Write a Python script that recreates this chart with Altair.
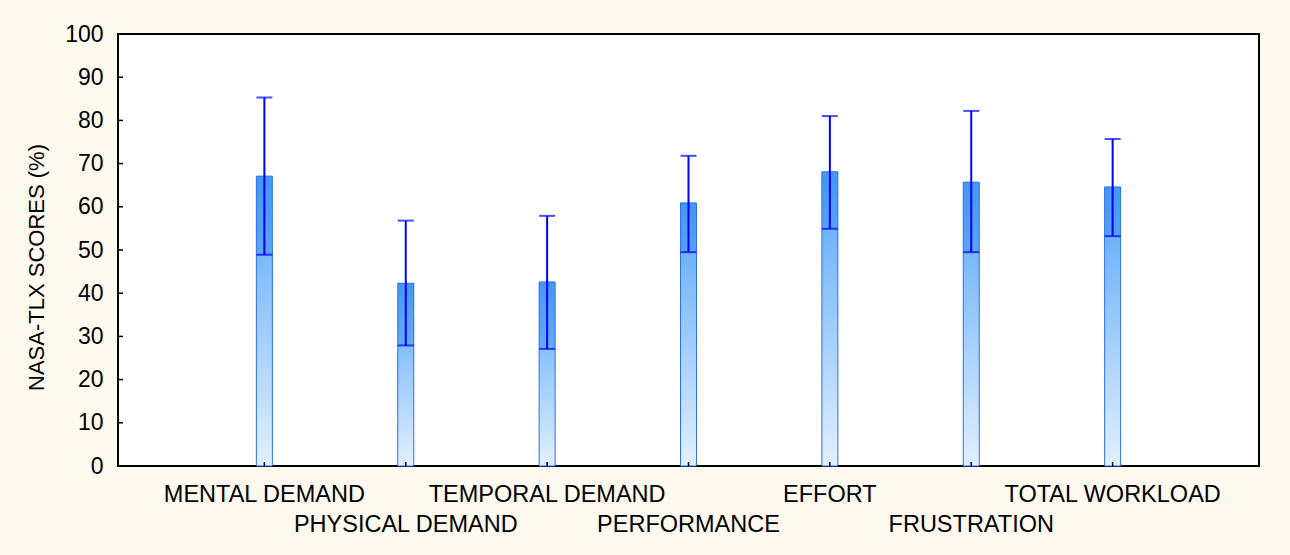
import altair as alt
import pandas as pd

categories = ["MENTAL DEMAND", "PHYSICAL DEMAND", "TEMPORAL DEMAND", "PERFORMANCE",
              "EFFORT", "FRUSTRATION", "TOTAL WORKLOAD"]
positions = [1, 2, 3, 4, 5, 6, 7]
means = [67.1, 42.3, 42.6, 60.9, 68.1, 65.7, 64.6]
upper = [85.3, 56.8, 57.9, 71.8, 81.0, 82.2, 75.7]
lower = [48.9, 27.9, 27.1, 49.5, 54.9, 49.5, 53.2]
y_ticks = [0, 10, 20, 30, 40, 50, 60, 70, 80, 90, 100]

df = pd.DataFrame({"cat": categories, "pos": positions, "mean": means,
                   "up": upper, "low": lower, "idx": list(range(len(categories)))})
ticks_df = pd.DataFrame({"t": y_ticks})

FONT = "Liberation Sans"
xs = alt.Scale(domain=[0, 8], nice=False, zero=False)
ys = alt.Scale(domain=[0, 100], nice=False)

base = alt.Chart(df)

grad = alt.Gradient(
    gradient="linear",
    stops=[alt.GradientStop(color="#55a5f8", offset=0),
           alt.GradientStop(color="#e2f0ff", offset=1)],
    x1=0, x2=0, y1=0, y2=1,
)

bars = base.mark_bar(size=16, fill=grad, stroke="#2f6fe6", strokeWidth=1).encode(
    x=alt.X("pos:Q", scale=xs, axis=None),
    y=alt.Y("mean:Q", scale=ys,
            axis=alt.Axis(values=y_ticks, ticks=False, tickSize=0, domain=False, grid=False,
                          labelPadding=15, labelFontSize=23, labelFont=FONT, labelColor="#000",
                          title="NASA-TLX SCORES (%)", titleFont=FONT, titleFontSize=22,
                          titleFontWeight="normal", titleColor="#000", titleAngle=-90,
                          titleX=-82, titleY=233, titleAlign="center", titleBaseline="middle")),
    y2=alt.datum(0),
)

overlay = base.mark_bar(size=16, color="#1f78f0", opacity=0.3).encode(
    x=alt.X("pos:Q", scale=xs), y=alt.Y("low:Q", scale=ys), y2="mean:Q")

err = base.mark_rule(color="#0000ff", strokeWidth=2).encode(
    x=alt.X("pos:Q", scale=xs), y=alt.Y("low:Q", scale=ys), y2="up:Q")

cap_up = base.mark_tick(color="#0000ff", size=16, thickness=2, orient="horizontal").encode(
    x=alt.X("pos:Q", scale=xs), y=alt.Y("up:Q", scale=ys))
cap_low = base.mark_tick(color="#0000ff", size=16, thickness=2, orient="horizontal").encode(
    x=alt.X("pos:Q", scale=xs), y=alt.Y("low:Q", scale=ys))

ytick_marks = alt.Chart(ticks_df).mark_rule(color="#000", strokeWidth=1.5).encode(
    y=alt.Y("t:Q", scale=ys), x=alt.value(0), x2=alt.value(5))

xtick_marks = base.mark_rule(color="#000", strokeWidth=1.5).encode(
    x=alt.X("pos:Q", scale=xs), y=alt.value(432), y2=alt.value(428))

lab1 = base.transform_filter("datum.idx % 2 == 0").mark_text(
    font=FONT, fontSize=23.5, color="#000", align="center", baseline="alphabetic").encode(
    x=alt.X("pos:Q", scale=xs), y=alt.value(468), text="cat:N")
lab2 = base.transform_filter("datum.idx % 2 == 1").mark_text(
    font=FONT, fontSize=23.5, color="#000", align="center", baseline="alphabetic").encode(
    x=alt.X("pos:Q", scale=xs), y=alt.value(498), text="cat:N")

chart = alt.layer(bars, overlay, err, cap_up, cap_low, ytick_marks, xtick_marks, lab1, lab2).properties(
    width=1141, height=432,
    padding={"left": 118, "top": 34, "right": 31, "bottom": 89},
    autosize="none",
    background="#fffaf0",
).configure_view(stroke="#000", strokeWidth=2, fill="white")

chart.save("out.html", embed_options={"renderer": "svg", "actions": False})
